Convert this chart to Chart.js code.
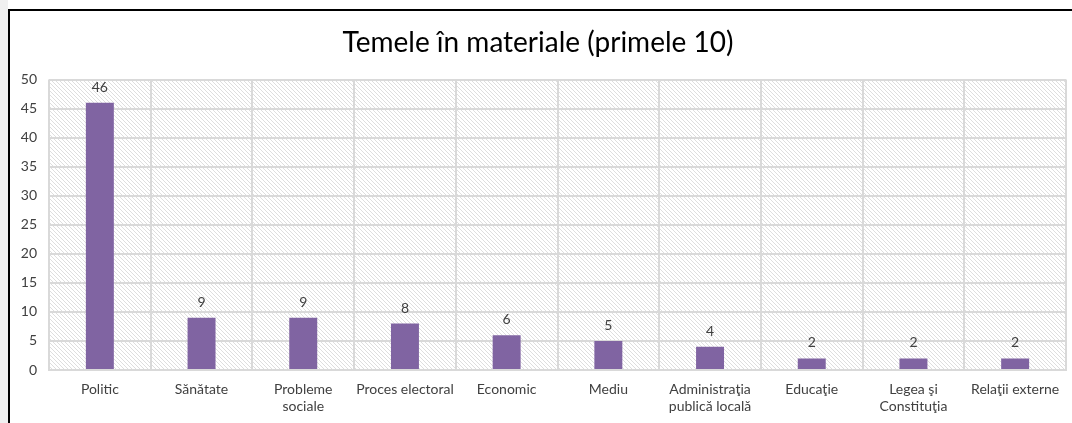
<!DOCTYPE html>
<html>
<head>
<meta charset="utf-8">
<script src="https://cdn.jsdelivr.net/npm/chart.js@4.4.1/dist/chart.umd.min.js"></script>
<style>
  html,body{margin:0;padding:0;background:#fff;width:1072px;height:423px;overflow:hidden;}
  #strip{position:absolute;left:0;top:0;width:8px;height:423px;background:#f0f0f0;}
  #frame{position:absolute;left:8px;top:9px;width:1070px;height:420px;border-top:2px solid #000;border-left:2px solid #000;background:#fff;}
  #wrap{position:absolute;left:0;top:0;width:1062px;height:412px;}
</style>
</head>
<body>
<div id="strip"></div>
<div id="frame"><div id="wrap"><canvas id="c"></canvas></div></div>
<script>
const categories=['Politic','Sănătate',['Probleme','sociale'],'Proces electoral','Economic','Mediu',['Administraţia','publică locală'],'Educaţie',['Legea şi','Constituţia'],'Relaţii externe'];
const counts=[46,9,9,8,6,5,4,2,2,2];
const yTicks=[0,5,10,15,20,25,30,35,40,45,50];
const titleText='Temele în materiale (primele 10)';
const FONT='Lato, "Open Sans", sans-serif';

// hatched plot background
function hatch(){
  const p=document.createElement('canvas'); p.width=4; p.height=4;
  const g=p.getContext('2d');
  g.fillStyle='#fff'; g.fillRect(0,0,4,4);
  g.strokeStyle='#dedede'; g.lineWidth=1;
  g.beginPath(); g.moveTo(-1,-1); g.lineTo(5,5); g.moveTo(-1,3); g.lineTo(1,5); g.moveTo(3,-1); g.lineTo(5,1); g.stroke();
  return p;
}
const bgPlugin={id:'bg',beforeDraw(chart){
  const {ctx,chartArea:a}=chart;
  ctx.save(); ctx.fillStyle=ctx.createPattern(hatch(),'repeat');
  ctx.fillRect(a.left,a.top,a.right-a.left,a.bottom-a.top); ctx.restore();
}};
const labelPlugin={id:'vals',afterDatasetsDraw(chart){
  const {ctx}=chart; const meta=chart.getDatasetMeta(0);
  ctx.save(); ctx.font='14px '+FONT; ctx.fillStyle='#404040'; ctx.textAlign='center'; ctx.textBaseline='alphabetic';
  meta.data.forEach((b,i)=>ctx.fillText(counts[i],b.x,b.y-11));
  ctx.restore();
}};

new Chart(document.getElementById('c'),{
  type:'bar',
  data:{labels:categories,datasets:[{data:counts,backgroundColor:'#8064A2',barPercentage:0.55,categoryPercentage:0.5}]},
  options:{
    responsive:true,maintainAspectRatio:false,animation:false,
    layout:{padding:{left:0,right:6,top:0,bottom:0}},
    plugins:{legend:{display:false},tooltip:{enabled:false},
      title:{display:true,text:titleText,color:'#000',font:{family:FONT,size:28,weight:'normal'},padding:{top:15,bottom:20}}},
    scales:{
      x:{grid:{color:'#d9d9d9',lineWidth:2,offset:true,drawTicks:false},border:{color:'#d9d9d9',width:2},
         ticks:{color:'#404040',font:{family:FONT,size:14},padding:11,maxRotation:0,autoSkip:false},
         afterFit(s){s.height=53;}},
      y:{min:0,max:50,afterBuildTicks(s){s.ticks=yTicks.map(v=>({value:v}));},
         grid:{color:'#d9d9d9',lineWidth:2,drawTicks:false},border:{display:false},
         ticks:{color:'#404040',font:{family:FONT,size:14},padding:12},
         afterFit(s){s.width=39;}}
    }
  },
  plugins:[bgPlugin,labelPlugin]
});
</script>
</body>
</html>
